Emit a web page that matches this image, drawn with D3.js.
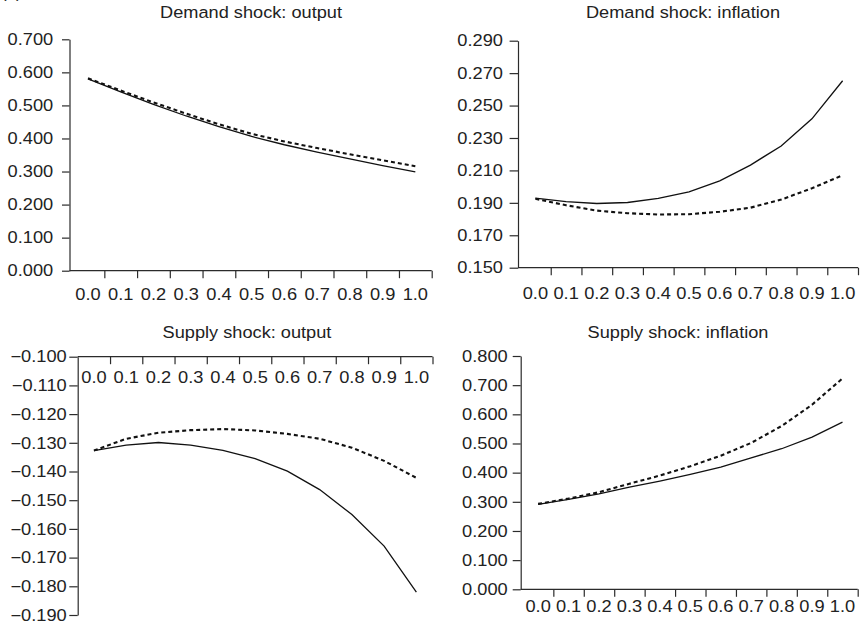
<!DOCTYPE html>
<html>
<head>
<meta charset="utf-8">
<script src="https://cdn.jsdelivr.net/npm/d3@7"></script>
<style>
    body { margin: 0; background: #fff; }
    svg { display: block; }
    .axis path, .axis line { stroke: #2b2b2b; stroke-width: 1.2px; }
    .axis text { fill: #222; }
</style>
</head>
<body>
<svg width="862" height="625"></svg>
<script>
let width = 862;
let height = 625;
let font = "'Liberation Sans', Arial, sans-serif";
let stretch = 1.12; // the printed font is a bit wider than Arial

// x categories shared by all four panels
let categories = ["0.0", "0.1", "0.2", "0.3", "0.4", "0.5", "0.6", "0.7", "0.8", "0.9", "1.0"];

// Demand shock: output
let demandOutputSolid = [0.580, 0.541, 0.503, 0.468, 0.436, 0.406, 0.381, 0.359, 0.338, 0.318, 0.299];
let demandOutputDashed = [0.582, 0.545, 0.509, 0.475, 0.443, 0.414, 0.391, 0.371, 0.352, 0.334, 0.316];
let demandOutputTicks = [0.0, 0.1, 0.2, 0.3, 0.4, 0.5, 0.6, 0.7];

// Demand shock: inflation
let demandInflationSolid = [0.1929, 0.1908, 0.1896, 0.1902, 0.1927, 0.1968, 0.2036, 0.2133, 0.2251, 0.2418, 0.2653];
let demandInflationDashed = [0.1925, 0.1885, 0.1852, 0.1836, 0.1828, 0.1830, 0.1845, 0.1870, 0.1920, 0.1990, 0.2070];
let demandInflationTicks = [0.15, 0.17, 0.19, 0.21, 0.23, 0.25, 0.27, 0.29];

// Supply shock: output
let supplyOutputSolid = [-0.1327, -0.1308, -0.1299, -0.1308, -0.1326, -0.1355, -0.1399, -0.1463, -0.1550, -0.1660, -0.1820];
let supplyOutputDashed = [-0.1327, -0.1286, -0.1265, -0.1256, -0.1252, -0.1257, -0.1269, -0.1286, -0.1317, -0.1363, -0.1422];
let supplyOutputTicks = [-0.19, -0.18, -0.17, -0.16, -0.15, -0.14, -0.13, -0.12, -0.11, -0.10];

// Supply shock: inflation
let supplyInflationSolid = [0.291, 0.308, 0.327, 0.350, 0.371, 0.394, 0.419, 0.451, 0.482, 0.522, 0.573];
let supplyInflationDashed = [0.293, 0.311, 0.333, 0.362, 0.390, 0.422, 0.458, 0.502, 0.560, 0.633, 0.723];
let supplyInflationTicks = [0.0, 0.1, 0.2, 0.3, 0.4, 0.5, 0.6, 0.7, 0.8];

let svg = d3.select("svg").attr("font-family", font);

// layout of each panel (screen positions only)
let panels = [
    {title: "Demand shock: output", solid: demandOutputSolid, dashed: demandOutputDashed,
     ticks: demandOutputTicks, domain: [0, 0.7], yRange: [270.7, 39.3], axisX: 69.5,
     band: [71.6, 431.7], base: 0, tickLen: 7.5, labelEnd: 16.3, xPad: 17.7,
     titleX: 251, titleY: 18.3},
    {title: "Demand shock: inflation", solid: demandInflationSolid, dashed: demandInflationDashed,
     ticks: demandInflationTicks, domain: [0.15, 0.29], yRange: [267.7, 40.7], axisX: 518,
     band: [520, 858], base: 0.15, tickLen: 8.4, labelEnd: 15, xPad: 19.7,
     titleX: 683, titleY: 18.3},
    {title: "Supply shock: output", solid: supplyOutputSolid, dashed: supplyOutputDashed,
     ticks: supplyOutputTicks, domain: [-0.19, -0.10], yRange: [615, 356.7], axisX: 77.7,
     band: [77.8, 432.5], base: -0.10, tickLen: 8.4, labelEnd: 11, xPad: 15,
     titleX: 247, titleY: 338.3},
    {title: "Supply shock: inflation", solid: supplyInflationSolid, dashed: supplyInflationDashed,
     ticks: supplyInflationTicks, domain: [0, 0.8], yRange: [589.3, 356], axisX: 520.7,
     band: [522.9, 857.7], base: 0, tickLen: 8, labelEnd: 13, xPad: 10.8,
     titleX: 678, titleY: 338.3}
];

function draw_panel(p) {
    let x = d3.scaleBand().domain(categories).range(p.band);
    let y = d3.scaleLinear().domain(p.domain).range(p.yRange);
    let baseY = y(p.base);

    // y axis
    let yAxis = svg.append("g")
        .attr("class", "axis")
        .attr("transform", `translate(${p.axisX},0)`)
        .call(d3.axisLeft(y)
            .tickValues(p.ticks)
            .tickSize(p.tickLen)
            .tickSizeOuter(0)
            .tickFormat(d3.format(".3f")))
        .attr("font-size", 16.3)
        .attr("font-family", font);
    // widen the labels, keep their right edge in place
    yAxis.selectAll("text")
        .attr("x", -p.labelEnd / stretch)
        .attr("transform", `scale(${stretch},1)`);

    // x axis line
    svg.append("line")
        .attr("x1", p.axisX)
        .attr("x2", p.band[1])
        .attr("y1", baseY)
        .attr("y2", baseY)
        .style("stroke", "#2b2b2b")
        .style("stroke-width", "1.2px");

    // tick marks on band boundaries
    let edges = d3.scaleLinear().domain([0, categories.length]).range(p.band);
    let edgeAxis = svg.append("g")
        .attr("class", "axis")
        .attr("transform", `translate(0,${baseY})`)
        .call(d3.axisBottom(edges)
            .tickValues(d3.range(1, categories.length + 1))
            .tickSize(7.5)
            .tickFormat(""));
    edgeAxis.select(".domain").remove();

    // category labels centred in each band
    let labelAxis = svg.append("g")
        .attr("class", "axis")
        .attr("transform", `translate(0,${baseY})`)
        .call(d3.axisBottom(x).tickSize(0).tickPadding(p.xPad))
        .attr("font-size", 16.3)
        .attr("font-family", font);
    labelAxis.select(".domain").remove();
    labelAxis.selectAll("text").attr("transform", `scale(${stretch},1)`);

    let line = d3.line()
        .x((d, i) => x(categories[i]) + x.bandwidth() / 2)
        .y(d => y(d));

    svg.append("path")
        .attr("d", line(p.solid))
        .style("fill", "none")
        .style("stroke", "#111")
        .style("stroke-width", "1.3px");

    svg.append("path")
        .attr("d", line(p.dashed))
        .style("fill", "none")
        .style("stroke", "#111")
        .style("stroke-width", "2.1px")
        .style("stroke-dasharray", "4,3");

    svg.append("text")
        .attr("transform", `translate(${p.titleX},${p.titleY}) scale(1.07,1)`)
        .attr("text-anchor", "middle")
        .style("font-size", "17px")
        .style("fill", "#222")
        .text(p.title);
}

panels.forEach(draw_panel);

// panel letter, cut off at the top edge in the original
svg.append("text")
    .attr("x", 1)
    .attr("y", -2)
    .style("font-size", "17px")
    .style("fill", "#222")
    .text("(a)");
</script>
</body>
</html>
